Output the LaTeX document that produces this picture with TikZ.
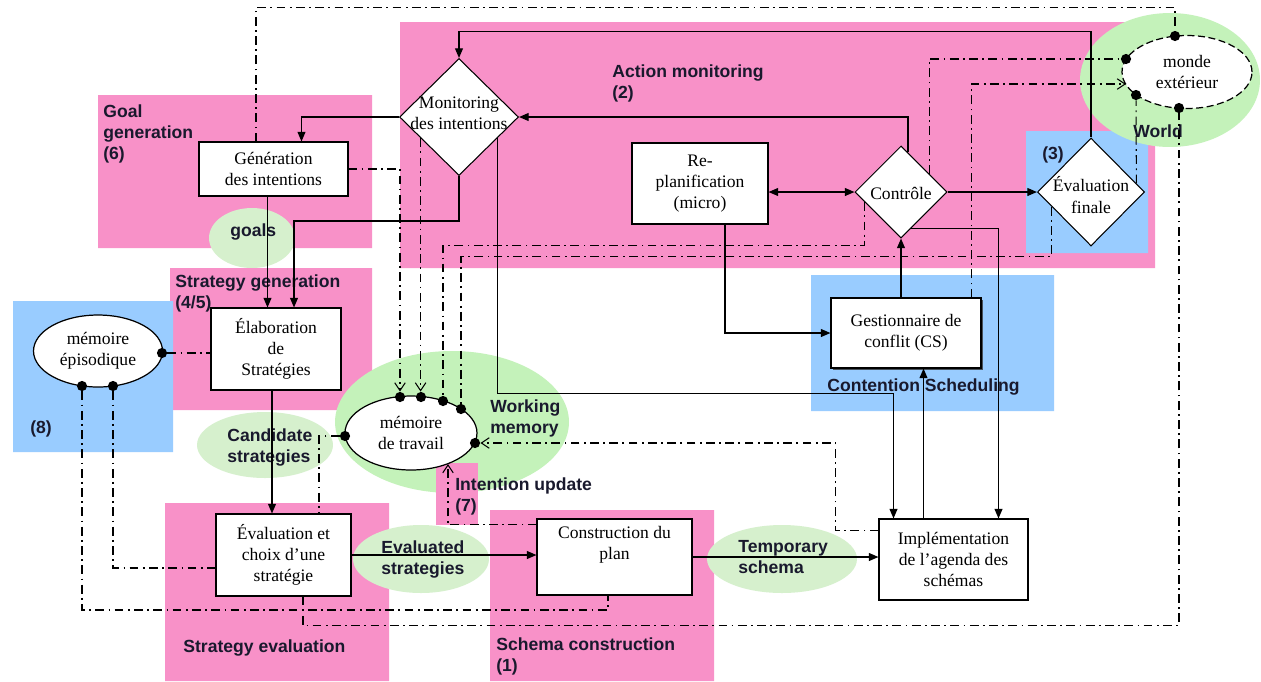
\documentclass[tikz,border=0pt]{standalone}
\usepackage{fontspec}
\setmainfont{Liberation Serif}
\setsansfont{Liberation Sans}
\usepackage{tikz}
\usetikzlibrary{arrows.meta,calc,shapes.geometric,shadows}
\definecolor{rose}{RGB}{248,145,200}
\definecolor{ciel}{RGB}{153,204,255}
\definecolor{vertpale}{RGB}{214,240,205}
\definecolor{vertvif}{RGB}{196,242,186}
\definecolor{encre}{RGB}{25,25,45}

\begin{document}
\begin{tikzpicture}[x=.02cm,y=-.02cm,>={Triangle[length=5.5pt,width=4.5pt]},
 box/.style={draw,fill=white,line width=.6pt,align=center,inner sep=1pt},
 diam/.style={diamond,draw,fill=white,line width=.6pt,inner sep=0},
 oval/.style={ellipse,draw,fill=white,line width=.7pt,align=center,inner sep=0},
 blob/.style={circle,fill=black,inner sep=0,minimum size=5.8pt},
 lbl/.style={font=\sffamily\bfseries,text=encre,align=left,anchor=north west,inner sep=0},
 sol/.style={line width=.75pt},
 dd/.style={line width=.6pt,dash pattern=on 5pt off 2.5pt on 1pt off 2.5pt},
 ouvert/.style={-{Straight Barb[length=4.5pt,width=6pt]}}]
 % zones
 \fill[white] (0,0) rectangle (1261,681);
 \fill[rose] (98,95) rectangle (372,248) (400,22) rectangle (1155,268) (170,268) rectangle (372,410)
  (165,503) rectangle (389,681) (490,510) rectangle (714,681);
 \fill[ciel] (13,301) rectangle (173,452) (1026,131) rectangle (1148,253) (811,275) rectangle (1054,411);
 \fill[vertpale] (252,238) ellipse [x radius=.86cm,y radius=.6cm] (265,445) ellipse [x radius=1.36cm,y radius=.66cm]
  (421,559) ellipse [x radius=1.36cm,y radius=.68cm] (782,559) ellipse [x radius=1.5cm,y radius=.68cm];
 \fill[vertvif] (452,422) ellipse [x radius=2.34cm,y radius=1.42cm] (1170,80) ellipse [x radius=1.8cm,y radius=1.34cm];
 \fill[rose] (436,463) rectangle (478,525);
 % labels
 \node[lbl] (t-goal) at (103,104) {Goal\\generation\\(6)};
 \node[lbl] (t-action) at (612,64) {Action monitoring\\(2)};
 \node[lbl] (t-strat) at (175,274) {Strategy generation\\(4/5)};
 \node[lbl] (t-epis) at (30,420) {(8)};
 \node[lbl] (t-goals) at (230,223) {goals};
 \node[lbl] (t-cand) at (227,428) {Candidate\\strategies};
 \node[lbl] (t-wm) at (490,399) {Working\\memory};
 \node[lbl] (t-upd) at (455,477) {Intention update\\(7)};
 \node[lbl] (t-evald) at (381,540) {Evaluated\\strategies};
 \node[lbl] (t-evals) at (183,639) {Strategy evaluation};
 \node[lbl] (t-schema) at (496,637) {Schema construction\\(1)};
 \node[lbl] (t-temp) at (738,540) {Temporary\\schema};
 \node[lbl] (t-cs) at (827,378) {Contention Scheduling};
 \node[lbl] (t-3) at (1042,146) {(3)};
 \node[lbl] (t-world) at (1133,124) {World};
 % boites
 \node[box,minimum width=2.98cm,minimum height=1.08cm] (gen) at (273.5,169) {Génération\\des intentions};
 \node[box,minimum width=2.6cm,minimum height=1.64cm] (elab) at (276,349) {Élaboration\\de\\Stratégies};
 \node[box,minimum width=2.7cm,minimum height=1.64cm] (evalc) at (283.5,555) {Évaluation et\\choix d’une\\stratégie};
 \node[box,minimum width=3.1cm,minimum height=1.52cm] (constr) at (614.5,557) {Construction du\\plan\\\strut};
 \node[box,minimum width=2.98cm,minimum height=1.62cm] (impl) at (953.5,559.5) {Implémentation\\de l’agenda des\\schémas};
 \node[box,minimum width=2.72cm,minimum height=1.62cm] (replan) at (700,183.5) {Re-\\planification\\(micro)};
 \node[box,minimum width=3cm,minimum height=1.4cm,drop shadow={shadow xshift=1.3pt,shadow yshift=-1.3pt,fill=black!80,opacity=.8}] (gest) at (906,333) {Gestionnaire de\\conflit (CS)};
 \node[diam,minimum width=2.38cm,minimum height=2.34cm] (mon) at (459,117) {};
 \node[align=center] (mon-t) at (459,113) {Monitoring\\des intentions};
 \node[diam,minimum width=1.84cm,minimum height=1.84cm] (ctrl) at (901,192) {};
 \node (ctrl-t) at (901,193) {Contrôle};
 \node[diam,minimum width=2.14cm,minimum height=2.16cm] (evf) at (1091,192) {};
 \node[align=center] (evf-t) at (1091,195) {Évaluation\\finale};
 \node[oval,minimum width=2.58cm,minimum height=1.44cm] (epis) at (98,351) {mémoire\\épisodique};
 \node[oval,minimum width=2.64cm,minimum height=1.48cm] (wm) at (411,433) {mémoire\\de travail};
 \node[oval,dashed,dash pattern=on 4pt off 2pt,minimum width=2.6cm,minimum height=1.46cm] (monde) at (1187,72) {monde\\extérieur};
 % points d'attache
 \node[blob] (ep-e) at (162,353) {};
 \node[blob] (ep-s1) at (82,386) {};
 \node[blob] (ep-s2) at (113,386) {};
 \node[blob] (wm-n1) at (400,397) {};
 \node[blob] (wm-n2) at (421,397) {};
 \node[blob] (wm-n3) at (443,401) {};
 \node[blob] (wm-n4) at (461,409) {};
 \node[blob] (wm-w) at (345,436) {};
 \node[blob] (wm-e) at (475,443) {};
 \coordinate (wm-s) at (448,464);
 \node[blob] (mo-n) at (1175,36) {};
 \node[blob] (mo-w) at (1126,59) {};
 \coordinate (mo-in) at (1126,84);
 \node[blob] (mo-sw) at (1136,95) {};
 \node[blob] (mo-s) at (1179,108) {};
 % fleches pleines
 \draw[sol,->] (mon.west) -| ($(gen.north)+(28,0)$);
 \draw[sol,->] ($(gen.south)+(-6,0)$) coordinate (g1) -- (g1 |- elab.north);
 \draw[sol,->] (mon.south) -- ++(0,45) -| ($(elab.north)+(18,0)$);
 \draw[sol,->] ($(elab.south)+(-4,0)$) coordinate (e1) -- (e1 |- evalc.north);
 \draw[sol,->] (evalc.east) -- (evalc.east -| constr.west);
 \draw[sol,->] (constr.east) -- (constr.east -| impl.west);
 \draw[sol,->] ($(mon.east)!.36!(mon.south)$) -- ++(0,255) -| ($(impl.north)+(-60,0)$);
 \draw[sol,->] ($(impl.north)+(-30,0)$) coordinate (i1) -- (i1 |- gest.south);
 \draw[sol,->] (gest.north -| ctrl.south) -- (ctrl.south);
 \draw[sol,->] ($(replan.south)+(25,0)$) |- (gest.west);
 \draw[sol,<->] (replan.east |- ctrl.west) -- (ctrl.west);
 \draw[sol,->] (ctrl.east) -- (evf.west);
 \draw[sol,->] ($(ctrl.north)!.15!(ctrl.east)$) |- (mon.east);
 \draw[sol,->] ($(ctrl.south)!.22!(ctrl.east)$) -| ($(impl.north)+(45,0)$);
 \draw[sol,->] (evf.north) -- ++(0,-106) -| (mon.north);
 % liens mixtes
 \draw[dd] ($(gen.north)+(-17.5,0)$) -- ++(0,-134) -| (mo-n);
 \draw[dd,ouvert] (gen.east) -| (wm-n1);
 \draw[dd,ouvert] ($(mon.west)!.36!(mon.south)$) coordinate (m1) -- (m1 |- wm-n2.north);
 \draw[dd] ($(ctrl.west)!.22!(ctrl.south)$) -- ++(0,43) -| (wm-n3);
 \draw[dd] ($(evf.west)!.27!(evf.south)$) -- ++(0,50) -| (wm-n4);
 \draw[dd] ($(ctrl.north)!.61!(ctrl.east)$) |- (mo-w);
 \draw[dd,ouvert] ($(gest.north east)+(-10,0)$) |- (mo-in);
 \draw[dd] ($(evf.north)!.84!(evf.east)$) -- (mo-sw);
 \draw[dd] ($(evalc.south)+(19.5,0)$) -- ++(0,29) -| (mo-s);
 \draw[dd] (ep-s1) -- ++(0,224) -| ($(constr.south)+(-6.5,0)$);
 \draw[dd] (ep-s2) |- ($(evalc.west)+(0,13)$);
 \draw[dd] (ep-e) -- (ep-e -| elab.west);
 \draw[dd] (wm-w) -| ($(evalc.north)+(35.5,0)$);
 \draw[dd,ouvert] ($(impl.north west)+(0,12)$) -- ++(-43,0) |- (wm-e);
 \draw[dd,ouvert] ($(constr.north west)+(0,6)$) -| (wm-s);
\end{tikzpicture}
\end{document}
